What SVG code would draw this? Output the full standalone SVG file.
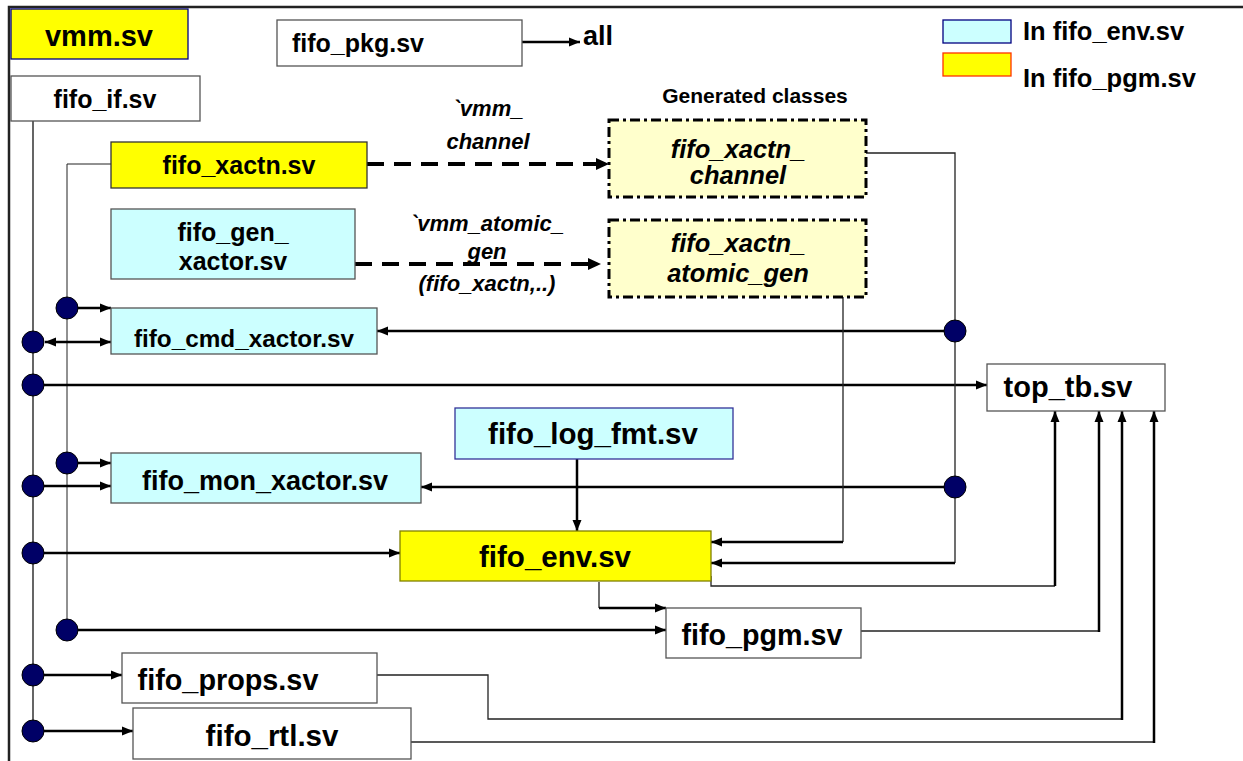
<svg xmlns="http://www.w3.org/2000/svg" width="1243" height="761" viewBox="0 0 1243 761">
  <style>
    text { font-family: "Liberation Sans", Arial, sans-serif; font-weight: bold; fill: #000; }
    .c { text-anchor: middle; }
    .it { font-style: italic; }
    .box { stroke-width: 1.3; }
    .yel { fill: #FFFF00; }
    .cyan { fill: #CCFFFF; }
    .wht { fill: #FFFFFF; stroke: #555; }
    .gen { fill: #FFFFCC; stroke: #000; stroke-width: 3; stroke-dasharray: 10 4 3 4; }
    .thick { fill: none; stroke: #000; stroke-width: 2.5; }
    .thin { fill: none; stroke: #222; stroke-width: 1.3; }
    .dash { fill: none; stroke: #000; stroke-width: 4; stroke-dasharray: 17 10; }
    .dot { fill: #000066; stroke: #000; stroke-width: 1; }
  </style>
  <defs>
    <marker id="arr" markerUnits="userSpaceOnUse" markerWidth="12" markerHeight="10" refX="11" refY="5" orient="auto-start-reverse">
      <path d="M0,0.5 L11,5 L0,9.5 z" fill="#000"/>
    </marker>
  </defs>

  <!-- page frame -->
  <path d="M9,761 V7 H1243" fill="none" stroke="#222" stroke-width="2.5"/>

  <!-- legend -->
  <g id="legend">
    <rect x="943" y="20" width="68" height="23" fill="#CCFFFF" stroke="#000080" stroke-width="1.3"/>
    <text x="1023" y="40" font-size="25.5">In fifo_env.sv</text>
    <rect x="943" y="53" width="68" height="23" fill="#FFFF00" stroke="#FF3300" stroke-width="1.3"/>
    <text x="1023" y="87" font-size="25.5">In fifo_pgm.sv</text>
  </g>

  <text x="755" y="103" font-size="21" class="c">Generated classes</text>

  <!-- connectors -->
  <g id="connectors">
    <!-- interface bus and transaction bus -->
    <path d="M33,121 V731" fill="none" stroke="#555" stroke-width="1.8"/>
    <path d="M111,164 H67 V630" fill="none" stroke="#222" stroke-width="1"/>

    <!-- package import -->
    <path class="thick" d="M522,42 H580" marker-end="url(#arr)"/>

    <!-- macro-generated classes -->
    <path class="dash" d="M367,164 H596"/>
    <path d="M596,158 L609,164 L596,170 z" fill="#000"/>
    <path class="dash" d="M355,264 H588"/>
    <path d="M588,258 L601,264 L588,270 z" fill="#000"/>

    <!-- taps from the buses into the transactors -->
    <path class="thick" d="M67,308 H111" marker-end="url(#arr)"/>
    <path class="thick" d="M45,342 H111" marker-start="url(#arr)" marker-end="url(#arr)"/>
    <path class="thick" d="M33,385 H987" marker-end="url(#arr)"/>
    <path class="thick" d="M67,463 H111" marker-end="url(#arr)"/>
    <path class="thick" d="M33,486 H111" marker-end="url(#arr)"/>
    <path class="thick" d="M33,553 H400" marker-end="url(#arr)"/>

    <!-- channel bus on the right -->
    <path class="thin" d="M866,153 H955 V563"/>
    <path class="thick" d="M955,331 H377" marker-end="url(#arr)"/>
    <path class="thick" d="M955,487 H421" marker-end="url(#arr)"/>
    <path class="thick" d="M955,563 H711" marker-end="url(#arr)"/>
    <path class="thin" d="M843,297 V542"/>
    <path class="thick" d="M843,542 H711" marker-end="url(#arr)"/>

    <!-- log format into env -->
    <path class="thick" d="M577,459 V531" marker-end="url(#arr)"/>

    <!-- env into program -->
    <path class="thin" d="M599,582 V608"/>
    <path class="thick" d="M599,608 H666" marker-end="url(#arr)"/>
    <path class="thick" d="M67,630 H666" marker-end="url(#arr)"/>

    <!-- properties and RTL -->
    <path class="thick" d="M33,675 H122" marker-end="url(#arr)"/>
    <path class="thick" d="M33,731 H133" marker-end="url(#arr)"/>

    <!-- everything into the top testbench -->
    <path class="thin" d="M711,576 V586 H1055"/>
    <path class="thick" d="M1055,586 V411" marker-end="url(#arr)"/>
    <path class="thin" d="M861,631 H1099"/>
    <path class="thick" d="M1099,632 V411" marker-end="url(#arr)"/>
    <path class="thin" d="M377,675 H488 V719 H1122"/>
    <path class="thick" d="M1122,720 V411" marker-end="url(#arr)"/>
    <path class="thin" d="M411,742 H1154"/>
    <path class="thick" d="M1154,743 V411" marker-end="url(#arr)"/>

    <!-- connection dots -->
    <circle class="dot" cx="67" cy="308" r="11"/>
    <circle class="dot" cx="33" cy="342" r="11"/>
    <circle class="dot" cx="33" cy="385" r="11"/>
    <circle class="dot" cx="955" cy="331" r="11"/>
    <circle class="dot" cx="67" cy="463" r="11"/>
    <circle class="dot" cx="33" cy="486" r="11"/>
    <circle class="dot" cx="955" cy="487" r="11"/>
    <circle class="dot" cx="33" cy="553" r="11"/>
    <circle class="dot" cx="67" cy="630" r="11"/>
    <circle class="dot" cx="33" cy="675" r="11"/>
    <circle class="dot" cx="33" cy="731" r="11"/>

    <!-- macro labels -->
    <text x="488" y="116" font-size="22" class="c it">`vmm_</text>
    <text x="488" y="149" font-size="22" class="c it">channel</text>
    <text x="487" y="231" font-size="22" class="c it">`vmm_atomic_</text>
    <text x="487" y="259" font-size="22" class="c it">gen</text>
    <text x="487" y="291" font-size="22" class="c it">(fifo_xactn,..)</text>
  </g>

  <!-- nodes -->
  <g id="vmm">
    <rect class="box yel" x="11" y="9" width="177" height="50" stroke="#000080"/>
    <text x="99" y="46" font-size="29" class="c">vmm.sv</text>
  </g>
  <g id="fifo_pkg">
    <rect class="box wht" x="277" y="20" width="245" height="46"/>
    <text x="358" y="52" font-size="25" class="c">fifo_pkg.sv</text>
  </g>
  <g id="fifo_if">
    <rect class="box wht" x="11" y="76" width="189" height="45"/>
    <text x="105" y="108" font-size="25" class="c">fifo_if.sv</text>
  </g>
  <g id="fifo_xactn">
    <rect class="box yel" x="111" y="142" width="256" height="46" stroke="#333"/>
    <text x="239" y="174" font-size="25" class="c">fifo_xactn.sv</text>
  </g>
  <g id="fifo_xactn_channel">
    <rect class="gen" x="609" y="120" width="257" height="77"/>
    <text x="738" y="158" font-size="25.5" class="c it">fifo_xactn_</text>
    <text x="738" y="184" font-size="25.5" class="c it">channel</text>
  </g>
  <g id="fifo_gen_xactor">
    <rect class="box cyan" x="111" y="209" width="244" height="70" stroke="#555"/>
    <text x="233" y="241" font-size="25" class="c">fifo_gen_</text>
    <text x="233" y="270" font-size="25" class="c">xactor.sv</text>
  </g>
  <g id="fifo_xactn_atomic_gen">
    <rect class="gen" x="609" y="220" width="257" height="77"/>
    <text x="738" y="252" font-size="25.5" class="c it">fifo_xactn_</text>
    <text x="738" y="282" font-size="25.5" class="c it">atomic_gen</text>
  </g>
  <g id="fifo_cmd_xactor">
    <rect class="box cyan" x="111" y="308" width="266" height="46" stroke="#555"/>
    <text x="244" y="347" font-size="24.3" class="c">fifo_cmd_xactor.sv</text>
  </g>
  <g id="top_tb">
    <rect class="box wht" x="987" y="364" width="178" height="47"/>
    <text x="1068" y="397" font-size="29" class="c">top_tb.sv</text>
  </g>
  <g id="fifo_log_fmt">
    <rect class="box cyan" x="455" y="408" width="278" height="51" stroke="#333399"/>
    <text x="593" y="444" font-size="29.5" class="c">fifo_log_fmt.sv</text>
  </g>
  <g id="fifo_mon_xactor">
    <rect class="box cyan" x="111" y="453" width="310" height="50" stroke="#555"/>
    <text x="265" y="490" font-size="27" class="c">fifo_mon_xactor.sv</text>
  </g>
  <g id="fifo_env">
    <rect class="box yel" x="400" y="531" width="311" height="50" stroke="#808000"/>
    <text x="555" y="567" font-size="29.5" class="c">fifo_env.sv</text>
  </g>
  <g id="fifo_pgm">
    <rect class="box wht" x="666" y="608" width="195" height="50"/>
    <text x="762" y="645" font-size="28.7" class="c">fifo_pgm.sv</text>
  </g>
  <g id="fifo_props">
    <rect class="box wht" x="122" y="653" width="255" height="50"/>
    <text x="228" y="690" font-size="28.8" class="c">fifo_props.sv</text>
  </g>
  <g id="fifo_rtl">
    <rect class="box wht" x="133" y="708" width="278" height="51"/>
    <text x="272" y="746" font-size="29.5" class="c">fifo_rtl.sv</text>
  </g>
  <text x="583" y="45" font-size="27">all</text>
</svg>
